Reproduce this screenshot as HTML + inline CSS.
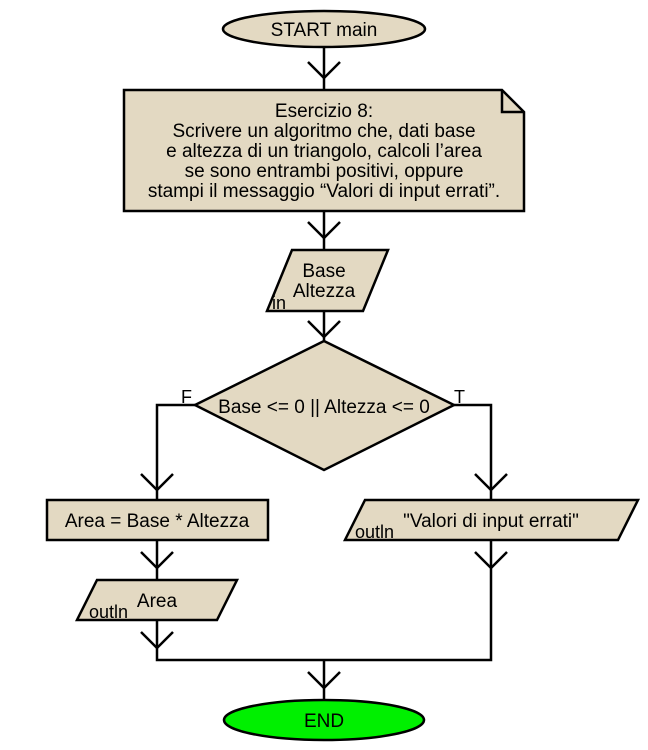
<!DOCTYPE html>
<html><head><meta charset="utf-8"><style>
html,body{margin:0;padding:0;background:#fff;width:648px;height:750px;overflow:hidden}
svg text{font-family:"Liberation Sans",Arial,sans-serif;fill:#000}
</style></head><body>
<svg width="648" height="750" viewBox="0 0 648 750" xmlns="http://www.w3.org/2000/svg">
<g stroke="#000" stroke-width="2.5" fill="none">
<line x1="324" y1="47" x2="324" y2="90"/>
<polyline points="308,62 324,78 340,62"/>
<line x1="324" y1="211" x2="324" y2="250"/>
<polyline points="308,222 324,238 340,222"/>
<line x1="324" y1="311" x2="324" y2="341"/>
<polyline points="308,321 324,337 340,321"/>
<polyline points="195,405 157,405 157,500"/>
<polyline points="141,474 157,490 173,474"/>
<polyline points="454,405 491,405 491,500"/>
<polyline points="475,474 491,490 507,474"/>
<line x1="157" y1="540" x2="157" y2="580"/>
<polyline points="141,552 157,568 173,552"/>
<polyline points="157,620 157,660 491,660 491,540"/>
<polyline points="141,632 157,648 173,632"/>
<polyline points="475,552 491,568 507,552"/>
<line x1="324" y1="660" x2="324" y2="700"/>
<polyline points="308,672 324,688 340,672"/>
</g>
<g stroke="#000" stroke-width="2.5" fill="#e3d9c2">
<ellipse cx="324" cy="29" rx="101" ry="18"/>
<path d="M124,90 H502 L524,112 V211 H124 Z"/>
<polygon points="292,250 388,250 363,311 267,311"/>
<polygon points="324,341 454,405 324,470 195,405"/>
<rect x="47" y="500" width="221" height="40"/>
<polygon points="97,580 237,580 217,620 77,620"/>
<polygon points="365,500 638,500 618,540 345,540"/>
</g>
<path d="M502,90 V112 H524" stroke="#000" stroke-width="2.5" fill="none"/>
<ellipse cx="324" cy="720" rx="100" ry="20" stroke="#000" stroke-width="2.5" fill="#00f000"/>
<g font-size="19" text-anchor="middle">
<text x="324" y="36">START main</text>
<text x="324" y="117">Esercizio 8:</text>
<text x="324" y="137">Scrivere un algoritmo che, dati base</text>
<text x="324" y="157">e altezza di un triangolo, calcoli l’area</text>
<text x="324" y="177">se sono entrambi positivi, oppure</text>
<text x="324" y="197">stampi il messaggio “Valori di input errati”.</text>
<text x="324" y="277">Base</text>
<text x="324" y="297">Altezza</text>
<text x="324" y="413">Base &lt;= 0 || Altezza &lt;= 0</text>
<text x="157" y="527">Area = Base * Altezza</text>
<text x="157" y="607">Area</text>
<text x="491" y="527">"Valori di input errati"</text>
<text x="324" y="727">END</text>
</g>
<g font-size="18">
<text x="272" y="309">in</text>
<text x="89" y="618">outln</text>
<text x="355" y="538">outln</text>
<text x="181" y="403">F</text>
<text x="454" y="403">T</text>
</g>
</svg>
</body></html>
